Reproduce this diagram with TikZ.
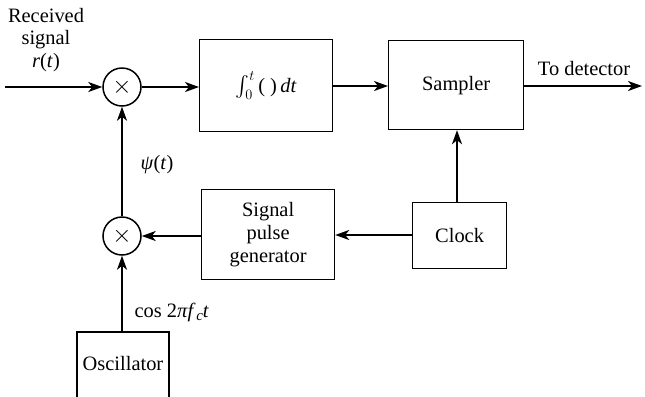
\documentclass[tikz,border=0pt]{standalone}
\usepackage{amsmath}
\usepackage{fontspec}
\setmainfont{Liberation Serif}
\usetikzlibrary{arrows.meta}
\begin{document}
\begin{tikzpicture}[x=1bp,y=-1bp,
  font=\fontsize{20.5}{23}\selectfont,
  blk/.style={draw, line width=1.2bp, inner sep=0pt, anchor=north west},
  mix/.style={draw, circle, line width=1.5bp, minimum size=38bp, inner sep=0pt},
  times/.style={font=\fontsize{28}{28}\selectfont, inner sep=0pt},
  sig/.style={line width=2bp, -{Stealth[length=14bp,width=10bp,inset=4bp]}}]
\useasboundingbox (0,0) rectangle (645,396);
% blocks
\node[blk, minimum width=133bp, minimum height=92bp] (int) at (199,39) {};
\node at (int.center) {$\int_0^t$\,( )\,\textit{dt}};
\node[blk, minimum width=135bp, minimum height=89bp] (samp) at (388,40) {};
\node at (samp.center) {Sampler};
\node[blk, minimum width=94bp, minimum height=66bp] (clk) at (412,202) {};
\node at (clk.center) {Clock};
\node[blk, minimum width=133bp, minimum height=90bp] (spg) at (201,189) {};
\node[align=center] at (spg.center) {Signal\\pulse\\generator};
% oscillator, cut off at bottom
\coordinate (oscl) at (77,332);
\coordinate (oscr) at (169,332);
\coordinate (osct) at (122,332);
\draw[line width=1.2bp] (77,397) -- (oscl) -- (oscr) -- (169,397);
\node (osc) at (123,364) {Oscillator};
% mixers
\node[mix] (m1) at (122,87) {};
\node[times] at (m1.center) {$\times$};
\node[mix] (m2) at (122,236) {};
\node[times] at (m2.center) {$\times$};
% input
\coordinate (in) at (5,87);
\node[align=center] (rx) at (46,40) {Received\\signal\\\textit{r}(\textit{t})};
\coordinate (out) at (642,86);
\node (todet) at (584,69) {To detector};
% connectors
\draw[sig] (in) -- (m1.west);
\draw[sig] (m1.east) -- (m1.east -| int.west);
\draw[sig] (int.east |- 0,86) -- (samp.west |- 0,86);
\draw[sig] (samp.east |- 0,86) -- (out);
\draw[sig] (clk.north -| 457,0) -- (samp.south -| 457,0);
\draw[sig] (clk.west |- 0,235) -- (spg.east |- 0,235);
\draw[sig] (spg.west |- m2.east) -- (m2.east);
\draw[sig] (m2.north) -- (m1.south);
\draw[sig] (osct) -- (m2.south);
% labels
\node (psi) at (157,165) {\textit{ψ}(\textit{t})};
\node[anchor=west] (cosl) at (131,312) {cos 2\textit{π}\textit{f}\kern0.5pt\raisebox{-3bp}{\fontsize{15}{15}\selectfont\textit{c}}\textit{t}};
\end{tikzpicture}
\end{document}
